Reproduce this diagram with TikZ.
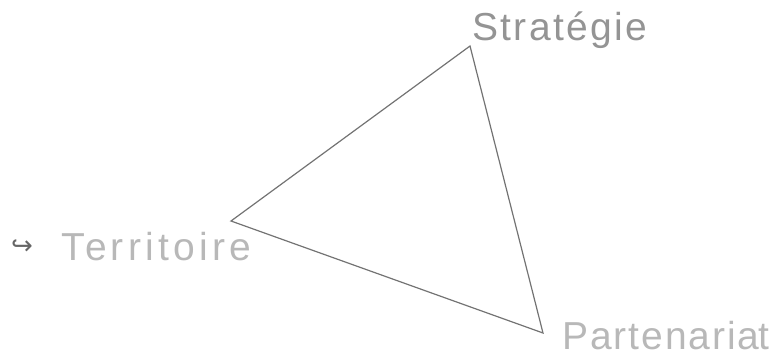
\documentclass[tikz,border=0pt]{standalone}
\usepackage{fontspec}
\setmainfont{Liberation Sans}
\newfontfamily\symfont{DejaVu Sans}
\newfontfamily\spS[LetterSpace=6]{Liberation Sans}
\newfontfamily\spT[LetterSpace=11]{Liberation Sans}
\newfontfamily\spP[LetterSpace=5]{Liberation Sans}
\begin{document}
\begin{tikzpicture}[x=1pt,y=-1pt,
  lbl/.style={inner sep=0pt,anchor=base west},
  edge/.style={draw=black!55,line width=1.2pt}]
\useasboundingbox (0,0) rectangle (778,356);
\coordinate (S) at (470,46);
\coordinate (T) at (231,221);
\coordinate (P) at (543,333);
\draw[edge,line join=miter] (S) -- (T) -- (P) -- cycle;
\node[lbl,text=black!42,font=\spS\fontsize{39}{44}\selectfont] (ls) at (472,40) {Stratégie};
\node[lbl,text=black!28,font=\spT\fontsize{39}{44}\selectfont] (lt) at (61,260) {Territoire};
\node[lbl,text=black!28,text depth=0pt,font=\spP\fontsize{39}{44}\selectfont] (lp) at (562,349) {Partenaria\kern-1pt t};
\node[inner sep=0pt,anchor=base west,text=black!60,font=\symfont\fontsize{26}{28}\selectfont] (hk) at (11,254) {↪};
\end{tikzpicture}
\end{document}
